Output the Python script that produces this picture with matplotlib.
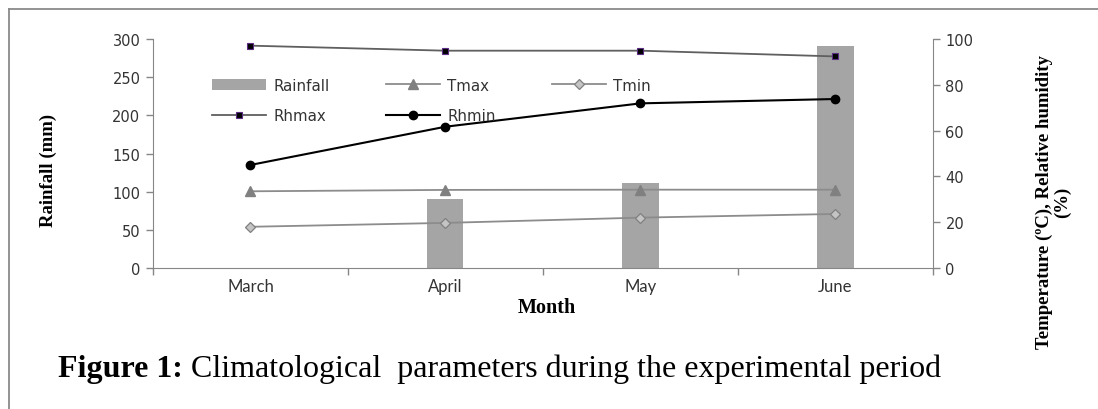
import matplotlib
matplotlib.use("Agg")

import matplotlib.pyplot as plt
from matplotlib.lines import Line2D

# ---------------------------
# Data
# ---------------------------
months = ["March", "April", "May", "June"]
rainfall = [0, 90, 111, 291]          # mm, left axis
tmax = [33.5, 34.1, 34.2, 34.2]        # degC, right axis
tmin = [18.0, 19.7, 22.0, 23.6]
rhmax = [97.1, 94.9, 94.9, 92.4]       # %, right axis
rhmin = [45.0, 61.7, 71.9, 73.8]

SERIF = "Liberation Serif"
SANS = "DejaVu Sans"
AXIS_GREY = "#868686"
TEXT_GREY = "#333333"

fig = plt.figure(figsize=(10.98, 4.10), dpi=100)
ax = fig.add_axes([0.1393, 0.3439, 0.7104, 0.5585])
ax2 = ax.twinx()

x = list(range(len(months)))

# ---------------------------
# Bars (rainfall)
# ---------------------------
bars = ax.bar(x, rainfall, width=0.185, color="#a5a5a5", label="Rainfall", zorder=1)

ax.set_xlim(-0.5, 3.5)
ax.set_ylim(0, 300)
ax.set_yticks(range(0, 301, 50))

# ---------------------------
# Lines (temperature / humidity)
# ---------------------------
l_tmax, = ax2.plot(x, tmax, color="#8c8c8c", lw=1.3, marker="^", ms=6.5,
                   mfc="#808080", mec="#808080", label="Tmax")
l_tmin, = ax2.plot(x, tmin, color="#8c8c8c", lw=1.3, marker="D", ms=5.5,
                   mfc="#c4c4c4", mec="#808080", mew=0.9, label="Tmin")
l_rhmax, = ax2.plot(x, rhmax, color="#5f5f5f", lw=1.3, marker="s", ms=5,
                    mfc="black", mec="#5b2c83", mew=0.8, label="Rhmax")
l_rhmin, = ax2.plot(x, rhmin, color="black", lw=1.5, marker="o", ms=6,
                    mfc="black", mec="black", label="Rhmin")
ax2.set_ylim(0, 100)
ax2.set_yticks(range(0, 101, 20))

# ---------------------------
# Axes styling
# ---------------------------
for a in (ax, ax2):
    for s in a.spines.values():
        s.set_visible(False)
    a.tick_params(axis="y", colors=AXIS_GREY, labelcolor=TEXT_GREY,
                  labelsize=10.5, length=5, width=1, direction="out", pad=4)
    for lab in a.get_yticklabels():
        lab.set_fontfamily(SANS)

ax.spines["left"].set_visible(True)
ax.spines["left"].set_color(AXIS_GREY)
ax.spines["bottom"].set_visible(True)
ax.spines["bottom"].set_color(AXIS_GREY)
ax2.spines["right"].set_visible(True)
ax2.spines["right"].set_color(AXIS_GREY)

# category boundaries as major ticks, month names on minor ticks
ax.set_xticks([-0.5, 0.5, 1.5, 2.5, 3.5])
ax.set_xticklabels([])
ax.set_xticks(x, minor=True)
ax.set_xticklabels(months, minor=True, fontfamily="Lato", fontsize=12,
                   color=TEXT_GREY)
ax.tick_params(axis="x", which="major", colors=AXIS_GREY, length=5, width=1)
ax.tick_params(axis="x", which="minor", length=0, pad=7)

# ---------------------------
# Legend
# ---------------------------
handles = [bars, l_rhmax, l_tmax, l_rhmin, l_tmin]
leg = ax2.legend(handles=handles, labels=[h.get_label() for h in handles],
                 ncol=3, frameon=False, prop={"family": SANS, "size": 10.8},
                 handlelength=3.6, handletextpad=0.5, columnspacing=3.75,
                 labelspacing=1.05, loc="upper left",
                 bbox_to_anchor=(0.058, 0.89))
for t in leg.get_texts():
    t.set_color(TEXT_GREY)

# ---------------------------
# Axis labels
# ---------------------------
fig.text(0.0437, 0.585, "Rainfall (mm)", rotation=90, ha="center", va="center",
         fontfamily=SERIF, fontweight="bold", fontsize=13.5)
fig.text(0.498, 0.249, "Month", ha="center", va="center",
         fontfamily=SERIF, fontweight="bold", fontsize=14.5)
fig.text(0.9595, 0.507, "Temperature (\u00baC), Relative humidity\n(%)",
         rotation=90, ha="center", va="center", multialignment="center",
         fontfamily=SERIF, fontweight="bold", fontsize=13.5, linespacing=1.05)

# ---------------------------
# Caption + frame
# ---------------------------
cap = fig.text(0.0528, 0.08, "Figure 1:", ha="left", va="baseline",
               fontfamily=SERIF, fontweight="bold", fontsize=23)
rest = fig.text(0.2, 0.08, " Climatological  parameters during the experimental period",
                ha="left", va="baseline", fontfamily=SERIF, fontsize=23)
fig.canvas.draw()
bb = cap.get_window_extent()
rest.set_position((bb.x1 / fig.bbox.width, 0.08))

fig.add_artist(Line2D([0.0082, 1.0], [0.9756, 0.9756], color="#8a8a8a", lw=1.3,
                      transform=fig.transFigure))
fig.add_artist(Line2D([0.0082, 0.0082], [0.0, 0.9756], color="#8a8a8a", lw=1.3,
                      transform=fig.transFigure))

fig.savefig("out.png", dpi=100)
plt.close(fig)
